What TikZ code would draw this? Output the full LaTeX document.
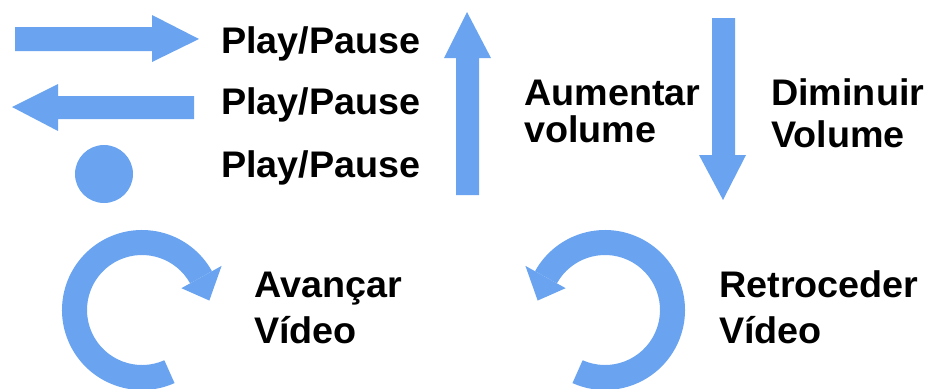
\documentclass[tikz,border=0pt]{standalone}
\usepackage{fontspec}
\setmainfont{Liberation Sans}
\definecolor{keyblue}{RGB}{106,163,240}
\begin{document}
\begin{tikzpicture}[x=1pt,y=-1pt,
  shape fill/.style={fill=keyblue,draw=none},
  label text/.style={anchor=base west,inner sep=0pt,xscale=1.02,font=\fontsize{37}{37}\selectfont\bfseries}]
\useasboundingbox (0,0) rectangle (928,388);

% right arrow
\path[shape fill] (15,27) -- (152,27) -- (152,15) -- (199,39) -- (152,62) -- (152,51) -- (15,51) -- cycle;
% left arrow
\path[shape fill] (194,96) -- (58,96) -- (58,84) -- (12,107) -- (58,131) -- (58,119) -- (194,119) -- cycle;
% dot
\path[shape fill] (104,174) circle[radius=29];

% up arrow
\path[shape fill] (456,195) -- (456,58) -- (444,58) -- (467,12) -- (491,58) -- (479,58) -- (479,195) -- cycle;
% down arrow
\path[shape fill] (712,18) -- (712,155) -- (699,155) -- (723,200) -- (746,155) -- (735,155) -- (735,18) -- cycle;

% clockwise circular arrow
\begin{scope}[shift={(142,310)},yscale=-1]
  \path[shape fill] (29:80) arc[start angle=29,end angle=294,radius=80]
     -- (294:55) arc[start angle=294,end angle=29,radius=55] -- cycle;
  \path[shape fill] (29:91) -- (8:68) -- (29:45) -- cycle;
\end{scope}
% counter-clockwise circular arrow
\begin{scope}[shift={(605,310)},yscale=-1]
  \path[shape fill] (151:80) arc[start angle=151,end angle=-114,radius=80]
     -- (-114:55) arc[start angle=-114,end angle=151,radius=55] -- cycle;
  \path[shape fill] (151:91) -- (172:68) -- (151:45) -- cycle;
\end{scope}

\node[label text] (pp1) at (221,53) {Play/Pause};
\node[label text] (pp2) at (221,114) {Play/Pause};
\node[label text] (pp3) at (221,177) {Play/Pause};
\node[label text] (up1) at (524,105) {Aumentar};
\node[label text] (up2) at (524,142) {volume};
\node[label text] (dn1) at (771,105) {Diminuir};
\node[label text] (dn2) at (771,147) {Volume};
\node[label text] (fw1) at (254,297) {Avançar};
\node[label text] (fw2) at (254,343) {Vídeo};
\node[label text] (bk1) at (719,297) {Retroceder};
\node[label text] (bk2) at (719,343) {Vídeo};
\end{tikzpicture}
\end{document}
